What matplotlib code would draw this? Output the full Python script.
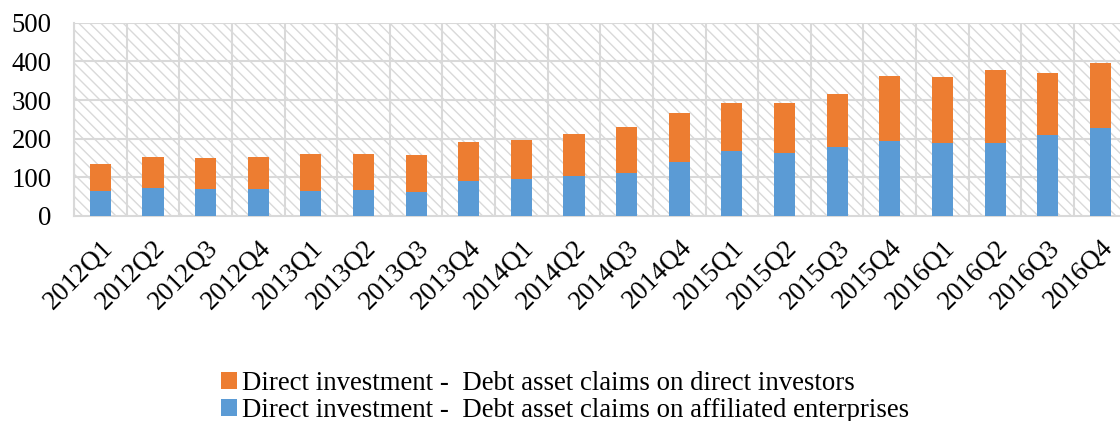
import numpy as np
import matplotlib.pyplot as plt
import matplotlib.transforms as mtransforms
from matplotlib.patches import Rectangle

plt.rcParams['font.family'] = ['Liberation Serif', 'DejaVu Serif']

# data
quarters = ['2012Q1', '2012Q2', '2012Q3', '2012Q4',
            '2013Q1', '2013Q2', '2013Q3', '2013Q4',
            '2014Q1', '2014Q2', '2014Q3', '2014Q4',
            '2015Q1', '2015Q2', '2015Q3', '2015Q4',
            '2016Q1', '2016Q2', '2016Q3', '2016Q4']
affiliated = [65, 73, 70, 71, 65, 66, 63, 91, 96, 104, 111, 140,
              168, 164, 179, 193, 189, 189, 209, 227]
total = [135, 152, 150, 153, 160, 160, 158, 191, 197, 212, 229, 266,
         293, 292, 316, 361, 360, 378, 370, 396]
investors = [t - a for t, a in zip(total, affiliated)]

label_inv = 'Direct investment -  Debt asset claims on direct investors'
label_aff = 'Direct investment -  Debt asset claims on affiliated enterprises'

fig = plt.figure(figsize=(11.2, 4.21), dpi=100)
ax = fig.add_axes([0.0661, 0.487, 0.9398, 0.459])

x = np.arange(len(quarters))
grid_col = '#d9d9d9'

# hatched plot background
ax.add_patch(Rectangle((0, 0), 1, 1, transform=ax.transAxes, facecolor='white',
                       edgecolor=grid_col, hatch='\\\\\\', linewidth=0, zorder=0))

b_aff = ax.bar(x, affiliated, width=0.4, color='#5B9BD5', zorder=3)
b_inv = ax.bar(x, investors, bottom=affiliated, width=0.4, color='#ED7D31', zorder=3)

ax.set_xlim(-0.5, len(quarters) - 0.5)
ax.set_ylim(0, 500)
ax.set_yticks(range(0, 501, 100))
ax.set_xticks(x)
ax.set_xticklabels(quarters, rotation=45, ha='right', rotation_mode='anchor')
shift = mtransforms.ScaledTranslation(3 / 72, 0, fig.dpi_scale_trans)
for lab in ax.get_xticklabels():
    lab.set_transform(lab.get_transform() + shift)

# gridlines between categories and at every 100
for v in range(100, 501, 100):
    ax.axhline(v, color=grid_col, lw=1.5, zorder=1)
for b in np.arange(-0.5, len(quarters), 1.0):
    ax.axvline(b, color=grid_col, lw=1.5, zorder=1)

for s in ['top', 'right']:
    ax.spines[s].set_visible(False)
for s in ['left', 'bottom']:
    ax.spines[s].set_color(grid_col)
    ax.spines[s].set_linewidth(1.5)
    ax.spines[s].set_zorder(2)

ax.tick_params(axis='y', length=0, pad=16, labelsize=19.3)
ax.tick_params(axis='x', length=0, pad=14, labelsize=19.3)

fig.legend([b_inv, b_aff], [label_inv, label_aff], loc='upper left',
           bbox_to_anchor=(0.197, 0.118), frameon=False, fontsize=19.3,
           handlelength=0.6, handleheight=0.6, handletextpad=0.2,
           labelspacing=0.05, borderpad=0, borderaxespad=0)

fig.savefig('out.png', dpi=100)
